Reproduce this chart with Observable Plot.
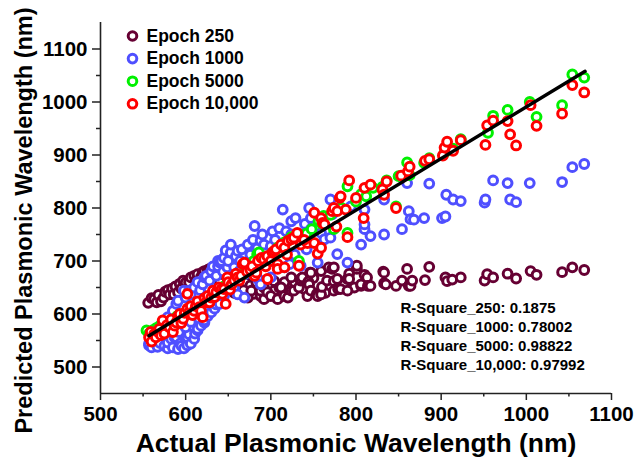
<!DOCTYPE html>
<html>
<head>
<meta charset="utf-8">
<script src="https://cdn.jsdelivr.net/npm/d3@7"></script>
<script src="https://cdn.jsdelivr.net/npm/@observablehq/plot@0.6"></script>
<style>
  html, body { margin: 0; padding: 0; background: white; }
</style>
</head>
<body>
<div id="chart"></div>
<script>
// ---- Data ----
const seriesLabels = ["Epoch 250", "Epoch 1000", "Epoch 5000", "Epoch 10,000"];
const seriesColors = ["#660033", "#4f4fff", "#00f000", "#ff0000"];
const rSquareLabels = [
  "R-Square_250: 0.1875",
  "R-Square_1000: 0.78002",
  "R-Square_5000: 0.98822",
  "R-Square_10,000: 0.97992"
];
const xTicks = [500, 600, 700, 800, 900, 1000, 1100];
const xMinorTicks = [550, 650, 750, 850, 950, 1050];
const yTicks = [500, 600, 700, 800, 900, 1000, 1100];
const yMinorTicks = [550, 650, 750, 850, 950, 1050];
const xTitle = "Actual Plasmonic Wavelength (nm)";
const yTitle = "Predicted Plasmonic Wavelength (nm)";

// Epoch 250 : [actual, predicted]
const epoch250 = [
  [556,621],[560,630],[563,628],[566,622],[568,636],[571,624],[574,631],[576,642],[579,645],[581,637],
  [584,648],[586,637],[588,652],[591,641],[593,657],[595,648],[597,663],[600,659],[603,650],[604,660],
  [606,669],[610,672],[612,663],[614,675],[617,662],[618,670],[620,679],[622,681],[624,670],[626,683],
  [628,685],[630,678],[632,671],[634,682],[636,686],[640,679],[642,668],[644,688],[646,673],[648,680],
  [650,665],[652,675],[655,684],[658,662],[640,660],[650,650],[657,640],[662,680],[670,660],[676,654],
  [680,638],[698,652],[704,644],[716,660],[728,660],[740,646],[750,668],[764,640],[786,655],[798,650],
  [661,638],[668,645],[673,631],[677,644],[683,660],[688,634],[688,644],[692,628],[692,650],[696,641],
  [700,634],[704,662],[708,628],[710,650],[712,650],[716,634],[720,631],[724,644],[724,669],[727,644],
  [733,650],[735,663],[735,666],[737,669],[743,634],[744,661],[745,656],[746,678],[747,644],[747,678],
  [754,638],[755,634],[759,637],[759,681],[760,651],[766,663],[768,688],[772,685],[774,644],[774,662],
  [774,688],[778,666],[779,647],[782,647],[790,644],[790,666],[792,676],[792,666],[801,685],[801,691],
  [806,653],[806,656],[810,674],[813,669],[814,653],[817,653],[832,680],[833,658],[833,678],[835,656],
  [847,653],[854,663],[860,685],[862,653],[864,653],[866,663],[881,664],[886,689],[905,669],[907,662],
  [913,665],[923,669],[951,663],[954,675],[961,669],[978,676],[988,667],[1005,681],[1012,674],[1042,679],
  [1054,688],[1068,683]
];

// Epoch 1000
const epoch1000 = [
  [557,541],[557,544],[560,537],[562,548],[565,550],[567,538],[570,545],[573,559],[575,540],[579,535],
  [579,546],[583,553],[585,537],[587,556],[589,556],[591,534],[592,566],[594,545],[595,540],[598,535],
  [600,553],[602,541],[602,556],[604,562],[606,544],[610,553],[611,563],[614,569],[614,572],[616,590],
  [618,578],[622,584],[622,588],[626,596],[628,610],[630,603],[634,610],[636,618],[640,619],[645,634],
  [579,594],[585,606],[589,619],[600,575],[606,585],
  [591,625],[598,644],[600,631],[604,644],[606,637],[610,650],[614,660],[617,645],[620,656],[622,669],
  [624,672],[628,663],[630,681],[632,690],[636,672],[638,690],[638,700],[640,697],[642,700],[644,680],
  [645,706],[647,720],[649,688],[650,700],[653,716],[653,731],[653,656],[657,650],[657,688],[659,709],
  [661,719],[661,637],[663,681],[664,700],[666,722],[669,631],[669,675],[673,731],[676,712],[679,740],
  [681,766],[684,724],[685,666],[688,656],[688,738],[690,750],[692,731],[696,709],[700,669],[700,728],
  [702,756],[705,740],[710,762],[714,797],[716,688],[718,756],[722,694],[724,750],[724,775],[728,712],
  [729,781],[735,750],[735,691],[740,770],[742,722],[745,800],[747,781],[747,760],[755,697],[759,753],
  [763,741],[770,744],[770,816],[772,788],[778,713],[782,800],[790,697],[794,803],[806,731],[810,760],
  [810,769],[810,797],[817,747],[833,750],[833,816],[854,760],[860,847],[862,794],[864,779],[868,778],
  [880,781],[886,846],[901,781],[905,784],[906,825],[914,816],[923,813],[951,810],[952,816],[961,852],
  [978,847],[981,816],[988,811],[1004,847],[1042,849],[1054,877],[1068,883]
];

// Epoch 5000
const epoch5000 = [
  [554,569],[557,563],[562,570],[566,574],[570,578],[578,582],[586,590],[590,596],[595,598],[603,606],
  [611,612],[616,622],[620,620],[628,628],[632,636],[637,640],[645,652],[650,655],[655,660],[664,672],
  [668,676],[672,690],[680,700],[684,713],[686,716],[690,700],[694,705],[700,712],[704,714],[708,725],
  [716,735],[720,738],[724,745],[733,700],[740,745],[742,752],[748,760],[756,775],[760,770],[762,785],
  [770,787],[774,760],[783,800],[790,753],[790,841],[800,812],[806,826],[812,822],[820,838],[831,840],
  [836,852],[847,803],[850,860],[860,886],[863,862],[880,885],[886,894],[904,904],[914,912],[923,930],
  [955,942],[961,974],[978,985],[1004,1000],[1012,972],[1042,994],[1054,1052],[1068,1046]
];

// Epoch 10,000
const epoch10000 = [
  [557,556],[559,566],[560,548],[563,562],[565,556],[567,567],[569,572],[571,560],[573,588],[575,563],
  [578,579],[581,575],[583,590],[585,566],[587,578],[589,584],[591,596],[593,600],[595,583],[597,591],
  [599,602],[602,610],[602,638],[604,603],[606,615],[608,598],[610,606],[612,615],[614,624],[616,613],
  [618,606],[620,594],[622,630],[624,622],[626,634],[628,622],[630,631],[632,644],[634,632],[636,641],
  [639,650],[642,647],[643,638],[645,647],[647,619],[649,669],[650,660],[652,646],[654,656],[657,663],
  [659,676],[661,669],[663,663],[665,672],[667,694],[669,697],[672,680],[676,683],[678,690],[681,672],
  [683,678],[685,700],[689,706],[692,703],[694,690],[696,666],[696,709],[700,700],[702,716],[704,719],
  [706,722],[708,694],[708,685],[712,731],[716,688],[716,725],[719,712],[720,738],[724,741],[727,744],
  [731,753],[733,691],[735,731],[743,734],[739,740],[751,791],[751,734],[755,714],[759,781],[759,725],
  [761,772],[763,769],[772,794],[774,800],[778,794],[777,765],[781,819],[782,822],[788,797],[790,745],
  [792,852],[800,819],[809,781],[810,838],[817,844],[831,835],[833,825],[836,850],[847,800],[853,861],
  [861,869],[863,878],[881,889],[886,892],[902,899],[904,914],[907,925],[914,908],[923,928],[952,919],
  [954,956],[961,965],[978,964],[981,939],[988,918],[1005,994],[1012,955],[1042,978],[1054,1032],[1068,1018]
];

// Linear fit line end points
const fitLine = [[557,559],[1069,1058]];

const seriesData = [epoch250, epoch1000, epoch5000, epoch10000];

// ---- Chart ----
const font = "'Liberation Sans', Arial, Helvetica, sans-serif";
const marks = [];

// axes lines
marks.push(Plot.ruleX([500], {stroke: "#222", strokeWidth: 1.6}));
marks.push(Plot.ruleY([450], {stroke: "#222", strokeWidth: 1.6}));

marks.push(Plot.axisX({ticks: xTicks, tickSize: 7, tickPadding: 6, tickFormat: d => String(d),
  fontSize: 20.5, fontWeight: "bold", stroke: "#222", strokeWidth: 1.5, label: null}));
marks.push(Plot.axisX({ticks: xMinorTicks, tickSize: 3.5, text: null, stroke: "#222", strokeWidth: 1.5, label: null}));
marks.push(Plot.axisY({ticks: yTicks, tickSize: 8, tickPadding: 5, tickFormat: d => String(d),
  fontSize: 20.5, fontWeight: "bold", stroke: "#222", strokeWidth: 1.5, label: null}));
marks.push(Plot.axisY({ticks: yMinorTicks, tickSize: 4, text: null, stroke: "#222", strokeWidth: 1.5, label: null}));

// data points
seriesData.forEach((data, i) => {
  marks.push(Plot.dot(data, {
    x: d => d[0], y: d => d[1], r: 4.4,
    stroke: seriesColors[i], strokeWidth: 3, fill: "white"
  }));
});

// fit line
marks.push(Plot.line(fitLine, {x: d => d[0], y: d => d[1], stroke: "black", strokeWidth: 3.4}));

// legend
seriesLabels.forEach((label, i) => {
  marks.push(Plot.dot([label], {frameAnchor: "top-left", dx: 32, dy: 13.5 + i * 22.6,
    r: 4.3, stroke: seriesColors[i], strokeWidth: 3, fill: "white"}));
  marks.push(Plot.text([label], {frameAnchor: "top-left", dx: 46, dy: 13.5 + i * 22.6,
    text: d => d, textAnchor: "start", lineAnchor: "middle",
    fontSize: 17.5, fontWeight: "bold", fill: "black"}));
});

// R-square annotation
marks.push(Plot.text([rSquareLabels.join("\n")], {frameAnchor: "top-left", dx: 300, dy: 313,
  text: d => d, textAnchor: "start", lineAnchor: "middle", lineHeight: 1.26,
  fontSize: 15, fontWeight: "bold", fill: "black"}));

// axis titles
marks.push(Plot.text([xTitle], {frameAnchor: "bottom", dy: 50.4, text: d => d, textAnchor: "middle",
  fontSize: 26.5, fontWeight: "bold", fill: "black", lineAnchor: "middle"}));
marks.push(Plot.text([yTitle], {frameAnchor: "left", dx: -76, dy: 12.5, rotate: -90, text: d => d,
  textAnchor: "middle", fontSize: 23.5, fontWeight: "bold", fill: "black", lineAnchor: "middle"}));

const chart = Plot.plot({
  width: 635,
  height: 459,
  marginLeft: 100,
  marginRight: 24,
  marginTop: 22,
  marginBottom: 66,
  x: {domain: [500, 1100]},
  y: {domain: [450, 1150]},
  style: {fontFamily: font, background: "white", color: "black", overflow: "visible"},
  marks
});
document.getElementById("chart").appendChild(chart);
</script>
</body>
</html>
